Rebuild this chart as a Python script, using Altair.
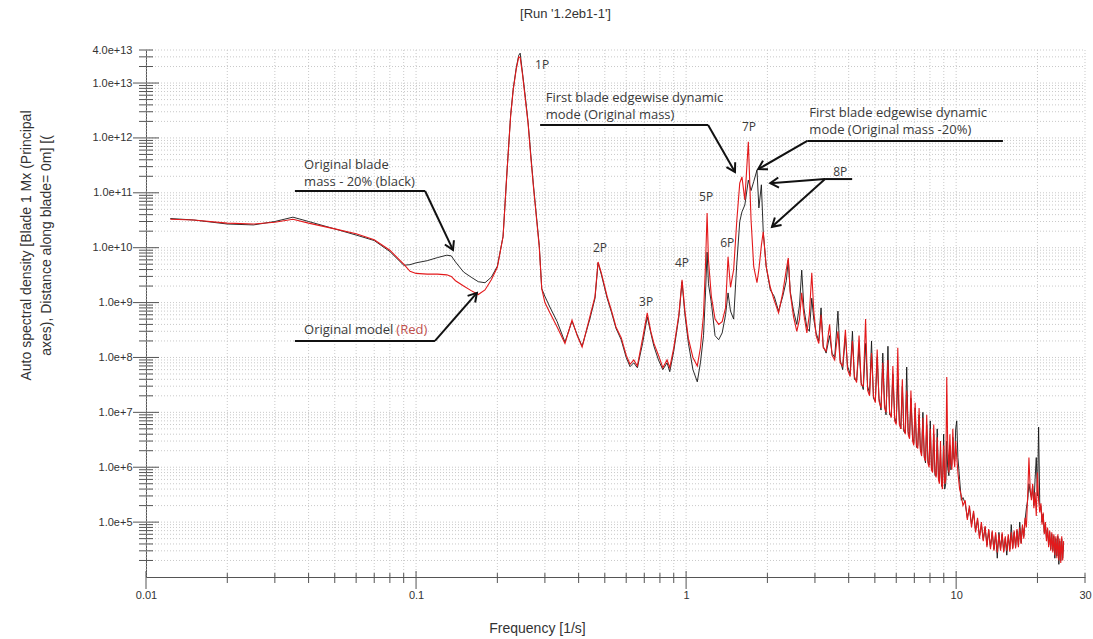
import math
import altair as alt
import pandas as pd

# ---------------- data ----------------
freq_low = [0.0123, 0.015, 0.02, 0.025, 0.03, 0.035, 0.04, 0.05, 0.06, 0.07,
            0.08, 0.09, 0.095, 0.1, 0.11, 0.12, 0.13, 0.135, 0.14, 0.15,
            0.16, 0.17, 0.18, 0.19, 0.2]
red_low = [3.3e10, 3.2e10, 2.8e10, 2.7e10, 2.9e10, 3.3e10, 2.8e10, 2.2e10, 1.8e10, 1.4e10,
           9.0e9, 5.0e9, 3.7e9, 3.4e9, 3.3e9, 3.3e9, 3.2e9, 3.0e9, 2.5e9, 2.0e9,
           1.65e9, 1.4e9, 1.7e9, 2.6e9, 4.4e9]
black_low = [3.4e10, 3.2e10, 2.7e10, 2.6e10, 3.0e10, 3.6e10, 3.0e10, 2.2e10, 1.7e10, 1.35e10,
             8.5e9, 4.8e9, 4.9e9, 5.3e9, 5.8e9, 6.6e9, 7.3e9, 7.1e9, 5.5e9, 3.6e9,
             2.9e9, 2.4e9, 2.3e9, 2.9e9, 4.6e9]

freq_mid = [0.21, 0.217, 0.224, 0.229, 0.235, 0.24, 0.243, 0.248, 0.254, 0.26,
            0.266, 0.272, 0.28, 0.286, 0.292, 0.3, 0.313, 0.333, 0.356, 0.378,
            0.395, 0.412, 0.44, 0.46, 0.472, 0.485, 0.51, 0.53, 0.55, 0.575,
            0.6, 0.62, 0.64, 0.66, 0.69, 0.718, 0.74, 0.76, 0.79, 0.82,
            0.85, 0.87, 0.9, 0.94, 0.966, 0.99, 1.02, 1.06, 1.1, 1.13,
            1.16, 1.18, 1.196, 1.21, 1.24, 1.28, 1.32, 1.36, 1.4, 1.43,
            1.46, 1.5, 1.54, 1.58, 1.61, 1.65, 1.7, 1.74, 1.78, 1.83,
            1.86, 1.9, 1.93, 1.98, 2.05, 2.12, 2.2, 2.28, 2.35, 2.39,
            2.43, 2.5, 2.57, 2.63, 2.68, 2.73, 2.8, 2.86, 2.92, 2.97]
red_mid = [1.6e10, 2.3e11, 2.5e12, 7.5e12, 1.8e13, 3.0e13, 2.9e13, 1.4e13, 5e12, 1.8e12,
           4.5e11, 1.3e11, 3e10, 1e10, 1.8e9, 1.0e9, 6.5e8, 3.6e8, 1.8e8, 4.8e8,
           2.5e8, 1.55e8, 5.5e8, 1.3e9, 5.5e9, 3.5e9, 1.3e9, 7e8, 3.6e8, 2.3e8,
           1.1e8, 7.5e7, 9e7, 7e7, 2.2e8, 6.5e8, 3e8, 1.8e8, 1.1e8, 6.5e7,
           9e7, 6.5e7, 1.5e8, 6e8, 2.6e9, 7e8, 2.2e8, 1.0e8, 7e7, 1.5e8,
           6e8, 5e9, 4.3e10, 6e9, 1.3e9, 5e8, 4e8, 4.5e8, 8e8, 6.8e9,
           1.9e9, 4e9, 3e10, 1.5e11, 1.95e11, 7.4e10, 8.5e11, 3.2e10, 4.5e9, 2.3e9,
           4e9, 1.1e10, 1.95e10, 4.5e9, 1.9e9, 1.1e9, 6.5e8, 1.5e9, 4e9, 6.5e9,
           1.5e9, 5.5e8, 3e8, 5e8, 1.5e9, 6e8, 2.8e8, 6e8, 3.5e9, 7e8]
black_mid = [1.6e10, 2.3e11, 2.6e12, 7.8e12, 1.9e13, 3.2e13, 3.5e13, 1.5e13, 5.5e12, 1.9e12,
             5e11, 1.4e11, 3.2e10, 1.1e10, 1.8e9, 1.3e9, 8.3e8, 4.5e8, 1.9e8, 4.6e8,
             2.6e8, 1.6e8, 5e8, 1.2e9, 5.3e9, 3.3e9, 1.2e9, 6.5e8, 3.4e8, 2.1e8,
             1.0e8, 6.8e7, 8e7, 6.5e7, 1.8e8, 5.5e8, 2.8e8, 1.6e8, 9e7, 6e7,
             8e7, 5.5e7, 1.3e8, 5.5e8, 2.4e9, 6e8, 1.8e8, 6e7, 3.6e7, 8e7,
             2.5e8, 1.5e9, 8.3e9, 2.2e9, 1.0e9, 2.5e8, 2.1e8, 2.8e8, 6e8, 1.5e9,
             7e8, 5e8, 5e9, 3e10, 4.5e10, 6e10, 1.7e11, 1.1e11, 1.6e11, 2.6e11,
             5.3e10, 1.4e11, 2e10, 4.5e9, 1.7e9, 1.3e9, 7e8, 1.3e9, 2.5e9, 6.0e9,
             1.6e9, 7e8, 4e8, 9e8, 3.9e9, 8e8, 3.5e8, 3e8, 1.2e9, 5e8]

freq_high = [3.03, 3.1, 3.16, 3.22, 3.3, 3.4, 3.47, 3.55, 3.65, 3.72,
             3.8, 3.89, 3.96, 4.05, 4.13, 4.2, 4.28, 4.37, 4.45, 4.53,
             4.62, 4.7, 4.78, 4.86, 4.94, 5.02, 5.1, 5.18, 5.27, 5.35,
             5.43, 5.5, 5.59, 5.67, 5.75, 5.83, 5.92, 6.0, 6.08, 6.16,
             6.24, 6.32, 6.4, 6.48, 6.56, 6.64, 6.72, 6.8, 6.9, 6.97,
             7.05, 7.13, 7.21, 7.29, 7.37, 7.45, 7.53, 7.62, 7.7, 7.78,
             7.86, 7.94, 8.02, 8.1, 8.18, 8.26, 8.35, 8.43, 8.51, 8.6,
             8.67, 8.75, 8.83, 8.9, 8.99, 9.07, 9.15, 9.23, 9.3, 9.4,
             9.48, 9.56, 9.64, 9.72, 9.8, 9.88, 9.96, 10.05, 10.15, 10.3,
             10.45, 10.6]
red_high = [2.5e8, 1.8e8, 6e8, 1.5e8, 1.3e8, 4e8, 1.1e8, 9e7, 3e8, 8e7,
            7e7, 3.2e8, 6e7, 4.5e7, 2e8, 4.5e7, 3.5e7, 2.5e8, 3.2e7, 3e7,
            5e8, 2.5e7, 2e7, 1.2e8, 2e7, 1.5e7, 1.4e8, 1.6e7, 1.2e7, 8e7,
            1.2e7, 1e7, 9e7, 1e7, 8e6, 7e7, 7e6, 6e6, 1.5e8, 6e6,
            5e6, 4e7, 5e6, 4e6, 2.5e7, 4e6, 3.3e6, 2.5e7, 3e6, 2.5e6,
            1.5e7, 2.5e6, 2.2e6, 1.2e7, 2e6, 1.6e6, 8e6, 1.5e6, 1.3e6, 9e6,
            1.2e6, 1e6, 5e6, 9e5, 8e5, 6e6, 8e5, 6.5e5, 3.5e6, 6e5,
            5e5, 3e6, 5e5, 4e5, 2.5e6, 5e5, 6e5, 4.4e7, 3e6, 8e5,
            4e6, 1.2e6, 9e5, 5e6, 1.5e6, 1.0e6, 3e6, 1.5e6, 8e5, 4e5,
            3e5, 2e5]
black_high = [2.8e8, 2.0e8, 8e8, 1.6e8, 1.2e8, 2.5e8, 1.2e8, 1.0e8, 7e8, 9e7,
              6e7, 2.5e8, 7e7, 5e7, 3e8, 4e7, 3.8e7, 1.5e8, 3.5e7, 2.6e7,
              1.8e8, 3e7, 2.2e7, 2e8, 1.8e7, 1.6e7, 1.0e8, 1.8e7, 1.1e7, 1.2e8,
              1.4e7, 9e6, 1.6e8, 9e6, 8.5e6, 5e7, 8e6, 6.5e6, 4e7, 7e6,
              5e6, 3e7, 4.5e6, 4.2e6, 6.7e7, 4.5e6, 3.5e6, 1.8e7, 3.3e6, 2.8e6,
              1.2e7, 2.3e6, 2.5e6, 9e6, 2.2e6, 1.8e6, 1.0e7, 1.6e6, 1.2e6, 6e6,
              1.3e6, 1.1e6, 7e6, 1e6, 8.5e5, 4e6, 7e5, 7e5, 5e6, 6.5e5,
              5.5e5, 2e6, 4.5e5, 4.5e5, 4e6, 4e5, 5e5, 3e6, 1e6, 7e5,
              2.5e6, 9e5, 1.1e6, 3.5e6, 1.5e6, 1.3e6, 5e6, 7e6, 1.5e6, 6e5,
              2.5e5, 2.8e5]

freq_tail = [10.8, 11.0, 11.2, 11.4, 11.6, 11.8, 12.0, 12.2, 12.4, 12.6,
             12.8, 13.0, 13.2, 13.4, 13.6, 13.8, 14.0, 14.2, 14.4, 14.6,
             14.8, 15.0, 15.2, 15.4, 15.6, 15.8, 16.0, 16.2, 16.4, 16.6,
             16.8, 17.0, 17.2, 17.4, 17.6, 17.8, 18.0, 18.2, 18.4, 18.6,
             18.8, 19.0, 19.2, 19.4, 19.6, 19.8, 20.0, 20.2, 20.4, 20.6,
             20.8, 21.0, 21.2, 21.4, 21.6, 21.8, 22.0, 22.2, 22.4, 22.6,
             22.8, 23.0, 23.2, 23.4, 23.6, 23.8, 24.0, 24.2, 24.4, 24.6,
             24.8, 25.0]
red_tail = [2.5e5, 1.1e5, 2.0e5, 8e4, 1.6e5, 6.5e4, 1.2e5, 5e4, 1.0e5, 4.5e4,
            8.5e4, 3.5e4, 7.5e4, 3.2e4, 7e4, 3e4, 6.5e4, 2.8e4, 6e4, 3e4,
            6.5e4, 2.8e4, 5.5e4, 3e4, 6e4, 2.9e4, 6.5e4, 3.2e4, 7e4, 3.3e4,
            7.5e4, 3.5e4, 8e4, 4e4, 9e4, 5e4, 1.2e5, 8e4, 3e5, 1.5e6,
            4e5, 2.5e5, 5e5, 1.8e5, 3.5e5, 1.3e5, 8e5, 2.5e5, 1.5e5, 2.2e5,
            9e4, 1.5e5, 6e4, 1.0e5, 4.5e4, 8e4, 3.5e4, 7e4, 3e4, 6.5e4,
            2.8e4, 6e4, 2.5e4, 5.5e4, 2.2e4, 6e4, 2e4, 5e4, 1.8e4, 5.5e4,
            2e4, 4.5e4]
black_tail = [2.2e5, 1.2e5, 1.8e5, 9e4, 1.5e5, 7e4, 1.1e5, 5.5e4, 9e4, 4.8e4,
              8e4, 3.8e4, 7e4, 3.4e4, 6.5e4, 3.2e4, 6e4, 2.2e4, 6.5e4, 3.2e4,
              6e4, 3e4, 5e4, 2.5e4, 5.5e4, 3.2e4, 9e4, 3.4e4, 6.5e4, 3.5e4,
              7e4, 3.8e4, 1.0e5, 4.2e4, 8.5e4, 5.5e4, 1.1e5, 1.8e5, 2.5e5, 5e5,
              3.5e5, 2.8e5, 4.5e5, 2e5, 6e5, 1.5e6, 3e5, 5.4e6, 2e5, 2e5,
              1e5, 1.4e5, 6.5e4, 9e4, 5e4, 7.5e4, 3.8e4, 6.5e4, 3.2e4, 6e4,
              3e4, 5.5e4, 2.2e4, 5e4, 2.4e4, 5.5e4, 1.7e4, 4.5e4, 2e4, 5e4,
              2.2e4, 4e4]

x_label_values = [0.01, 0.1, 1, 10, 30]
y_label_values = [1e5, 1e6, 1e7, 1e8, 1e9, 1e10, 1e11, 1e12, 1e13, 4e13]

# annotation texts (frequency, value)
note_text = ["Original blade", "mass - 20% (black)", "Original model",
             "First blade edgewise dynamic", "mode (Original mass)",
             "First blade edgewise dynamic", "mode (Original mass -20%)"]
note_f = [0.0385, 0.0385, 0.0385, 0.302, 0.302, 2.86, 2.86]
note_v = [3.2e11, 1.57e11, 3.17e8, 5.3e12, 2.6e12, 2.85e12, 1.39e12]
red_note = ["(Red)"]
red_note_f = [0.0845]
red_note_v = [3.17e8]

peak_text = ["1P", "2P", "3P", "4P", "5P", "6P", "7P", "8P"]
peak_f = [0.293, 0.48, 0.711, 0.966, 1.186, 1.42, 1.71, 3.72]
peak_v = [2.1e13, 9.9e9, 1.03e9, 5.3e9, 8.4e10, 1.22e10, 1.58e12, 2.4e11]

leader_lines = [(0.0356, 1.08e11, 0.108, 1.08e11), (0.0356, 2.0e8, 0.1175, 2.0e8),
                (0.288, 1.72e12, 1.206, 1.72e12), (14.9, 8.8e11, 2.81, 8.8e11),
                (4.12, 1.78e11, 3.27, 1.78e11)]
arrows = [(0.108, 1.08e11, 0.137, 9.1e9), (0.1175, 2.0e8, 0.168, 1.5e9),
          (1.206, 1.72e12, 1.517, 2.4e11), (2.81, 8.8e11, 1.85, 2.7e11),
          (3.27, 1.78e11, 2.05, 1.5e11), (3.27, 1.78e11, 2.08, 2.4e10)]

# ---------------- build ----------------
freq = freq_low + freq_mid + freq_high + freq_tail
red = red_low + red_mid + red_high + red_tail
black = black_low + black_mid + black_high + black_tail
assert len(freq) == len(red) == len(black), (len(freq), len(red), len(black))

W, H = 939, 527
XDOM = [0.01, 30]
YDOM = [1e4, 4e13]
xs = alt.Scale(type="log", domain=XDOM, nice=False)
ys = alt.Scale(type="log", domain=YDOM, nice=False)

FONT = "Liberation Sans"
xaxis = alt.Axis(values=x_label_values, format="~g", labelFlush=False, labelOverlap=False,
                 ticks=False, tickSize=0, grid=False, domainColor="#555", domainWidth=1,
                 labelFont=FONT, labelFontSize=11, labelColor="#333", labelPadding=12,
                 title="Frequency [1/s]", titleFont=FONT, titleFontSize=14,
                 titleFontWeight="normal", titleColor="#333", titleX=391, titleY=51,
                 titleAlign="center", titleBaseline="middle")
yaxis = alt.Axis(values=y_label_values, format=".1e", labelFlush=False, labelOverlap=False,
                 ticks=False, tickSize=0, grid=False, domainColor="#555", domainWidth=1,
                 labelFont=FONT, labelFontSize=11, labelColor="#333", labelPadding=14,
                 title=["Auto spectral density [Blade 1 Mx (Principal",
                        "axes), Distance along blade= 0m] [("],
                 titleFont=FONT, titleFontSize=14, titleFontWeight="normal",
                 titleColor="#333", titleX=-120, titleY=195, titleAngle=270,
                 titleAlign="center", titleBaseline="middle", titleLineHeight=20)

X = lambda f: alt.X(f, type="quantitative", scale=xs, axis=xaxis)
Y = lambda f: alt.Y(f, type="quantitative", scale=ys, axis=yaxis)

# grid + ticks
x_major = [0.01, 0.1, 1.0, 10.0]
x_minor = [round(k * 10.0 ** e, 6) for e in range(-2, 1) for k in range(2, 10)] + [20.0, 30.0]
y_major = [10.0 ** e for e in range(5, 14)]
y_minor = [k * 10.0 ** e for e in range(4, 13) for k in range(2, 10)] + [2e13, 3e13, 4e13]

grid_style = dict(color="#c9c9c9", strokeDash=[1, 2], strokeWidth=1)
vgrid = alt.Chart(pd.DataFrame({"g": x_major + x_minor})).mark_rule(**grid_style).encode(
    x=X("g"), y=alt.value(0), y2=alt.value(H))
hgrid = alt.Chart(pd.DataFrame({"g": y_major + y_minor})).mark_rule(**grid_style).encode(
    y=Y("g"), x=alt.value(0), x2=alt.value(W))

tick_style = dict(color="#555", strokeWidth=1)
xt_major = alt.Chart(pd.DataFrame({"t": x_major})).mark_rule(**tick_style).encode(
    x=X("t"), y=alt.value(H - 6), y2=alt.value(H + 12))
xt_minor = alt.Chart(pd.DataFrame({"t": x_minor})).mark_rule(**tick_style).encode(
    x=X("t"), y=alt.value(H - 4), y2=alt.value(H + 6))
yt_major = alt.Chart(pd.DataFrame({"t": y_major})).mark_rule(**tick_style).encode(
    y=Y("t"), x=alt.value(-13), x2=alt.value(13))
yt_minor = alt.Chart(pd.DataFrame({"t": y_minor})).mark_rule(**tick_style).encode(
    y=Y("t"), x=alt.value(-7), x2=alt.value(7))

# spectra
black_line = alt.Chart(pd.DataFrame({"f": freq, "v": black})).mark_line(
    color="#141414", strokeWidth=0.9).encode(x=X("f"), y=Y("v"))
red_line = alt.Chart(pd.DataFrame({"f": freq, "v": red})).mark_line(
    color="#e3191b", strokeWidth=1.1).encode(x=X("f"), y=Y("v"))

# annotations
lines_df = pd.DataFrame(leader_lines + arrows, columns=["f1", "v1", "f2", "v2"])
ann_lines = alt.Chart(lines_df).mark_rule(color="#111", strokeWidth=2).encode(
    x=X("f1"), y=Y("v1"), x2="f2", y2="v2")


def px(f):
    return (math.log10(f) - math.log10(XDOM[0])) / (math.log10(XDOM[1]) - math.log10(XDOM[0])) * W


def py(v):
    return (math.log10(YDOM[1]) - math.log10(v)) / (math.log10(YDOM[1]) - math.log10(YDOM[0])) * H


heads = []
for f1, v1, f2, v2 in arrows:
    dx = px(f2) - px(f1)
    dy = py(v2) - py(v1)
    ang = math.degrees(math.atan2(dx, -dy)) % 360
    heads.append({"f": f2, "v": v2, "ang": ang})
ann_heads = alt.Chart(pd.DataFrame(heads)).mark_point(
    shape="M -0.6 1 L 0 0 L 0.6 1", filled=False, size=280, strokeWidth=2,
    color="#111", opacity=1).encode(
    x=X("f"), y=Y("v"), angle=alt.Angle("ang:Q", scale=None))

ANN_FONT = "Open Sans"
ANN_SIZE = 13
ann_text = alt.Chart(pd.DataFrame({"f": note_f, "v": note_v, "t": note_text})).mark_text(
    align="left", baseline="middle", font=ANN_FONT, fontSize=ANN_SIZE, color="#3a3a3a").encode(
    x=X("f"), y=Y("v"), text="t:N")
ann_red = alt.Chart(pd.DataFrame({"f": red_note_f, "v": red_note_v, "t": red_note})).mark_text(
    align="left", baseline="middle", font=ANN_FONT, fontSize=ANN_SIZE, color="#c0504d").encode(
    x=X("f"), y=Y("v"), text="t:N")
peaks = alt.Chart(pd.DataFrame({"f": peak_f, "v": peak_v, "t": peak_text})).mark_text(
    align="center", baseline="middle", font=ANN_FONT, fontSize=12, color="#3a3a3a").encode(
    x=X("f"), y=Y("v"), text="t:N")

chart = alt.layer(
    vgrid, hgrid, xt_major, xt_minor, yt_major, yt_minor,
    black_line, red_line, ann_lines, ann_heads, ann_text, ann_red, peaks
).properties(
    width=W, height=H,
    autosize=alt.AutoSizeParams(type="none"),
    padding={"left": 146, "top": 50, "right": 8, "bottom": 62},
    title=alt.TitleParams("[Run '1.2eb1-1']", anchor="middle", dx=-50, offset=23,
                          frame="group", font=FONT, fontSize=13, fontWeight="normal",
                          color="#333"),
).configure_view(stroke=None)

chart.save("out.html", embed_options={"renderer": "svg", "actions": False})
